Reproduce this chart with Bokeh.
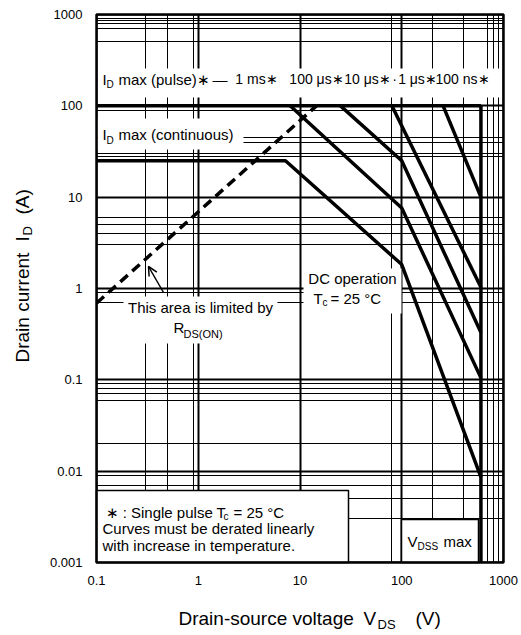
import math
from bokeh.plotting import figure
from bokeh.models import (Range1d, FixedTicker, Label, BoxAnnotation, Arrow, OpenHead)
from bokeh.embed import file_html
from bokeh.resources import INLINE

# ---------------- data ----------------
x_ticks = [0.1, 1, 10, 100, 1000]
y_ticks = [0.001, 0.01, 0.1, 1, 10, 100, 1000]
x_grid_minor = [0.3, 0.5, 0.9, 80, 200, 400, 700, 800, 900]
y_grid_minor = [900, 850, 800, 700, 500, 90, 45, 40, 30, 28, 6, 5, 4, 3,
                0.9, 0.7, 0.09, 0.08, 0.07, 0.06, 0.02, 0.009, 0.007,
                0.005, 0.003]

pulse_v = [0.1, 600]
pulse_i = [100, 100]
vdss_v = [600, 600]
vdss_i = [100, 0.001]
dc_v = [0.1, 7.2, 100, 600]
dc_i = [25, 25, 1.83, 0.0086]
ms1_v = [8, 100, 600]
ms1_i = [100, 7.6, 0.105]
us100_v = [25, 100, 600]
us100_i = [100, 25, 0.33]
us10_v = [80, 600]
us10_i = [100, 1.03]
us1_v = [255, 600]
us1_i = [100, 10]
rds_v = [0.1, 14.5]
rds_i = [0.69, 100]

# ---------------- layout helpers (canvas px -> data, for annotations) ----------------
FL, FT, DX, DY = 96, 14, 101.75, 91.33


def xd(px):
    return 10 ** (-1 + (px - FL) / DX)


def yd(py):
    return 10 ** (3 - (py - FT) / DY)


F = "Liberation Sans"
W, H = 519, 633

p = figure(width=W, height=H, x_axis_type="log", y_axis_type="log",
           x_axis_location=None, y_axis_location=None,
           x_range=Range1d(xd(0), xd(W)), y_range=Range1d(yd(H), yd(0)),
           output_backend="svg", toolbar_location=None, min_border=0)
p.background_fill_color = "white"
p.border_fill_color = "white"
p.outline_line_color = None

X0, X1, Y0, Y1 = x_ticks[0], x_ticks[-1], y_ticks[0], y_ticks[-1]

xt = FixedTicker(ticks=x_ticks, minor_ticks=x_grid_minor)
yt = FixedTicker(ticks=y_ticks, minor_ticks=y_grid_minor)
p.xgrid.ticker = xt
p.ygrid.ticker = yt
for g, b, cb in ((p.xgrid[0], (X0, X1), (Y0, Y1)), (p.ygrid[0], (Y0, Y1), (X0, X1))):
    g.grid_line_color = "black"
    g.grid_line_width = 2
    g.minor_grid_line_color = "black"
    g.minor_grid_line_width = 1
    g.bounds = b
    if "cross_bounds" in g.properties():
        g.cross_bounds = cb

# ---------------- curves ----------------
LW = 3.5
for v, i in [(pulse_v, pulse_i), (vdss_v, vdss_i), (dc_v, dc_i), (ms1_v, ms1_i),
             (us100_v, us100_i), (us10_v, us10_i), (us1_v, us1_i)]:
    p.line(v, i, line_width=LW, line_color="black")
p.line(rds_v, rds_i, line_width=LW, line_color="black", line_dash="10 6")

# ---------------- white areas: outside the chart, label boxes ----------------
for kw in (dict(right=X0), dict(left=X1), dict(top=Y0), dict(bottom=Y1)):
    p.add_layout(BoxAnnotation(fill_color="white", fill_alpha=1.0, line_color=None, **kw))


def box(l, r, t, b, border=None):
    p.add_layout(BoxAnnotation(left=xd(l), right=xd(r), top=yd(t), bottom=yd(b),
                               fill_color="white", fill_alpha=1.0,
                               line_color=border, line_width=1.5, line_alpha=1.0))


box(99, 500, 68, 97)
box(97, 243, 118, 149)
box(303, 401, 268, 313)
box(123, 277, 296, 343)
box(96, 348, 490, 562, border="black")
box(401, 478, 519, 562, border="black")

# chart border
p.add_layout(BoxAnnotation(left=X0, right=X1, bottom=Y0, top=Y1, fill_alpha=0.0,
                           line_color="black", line_width=2.5, line_alpha=1.0))

# tick labels
for t in x_ticks:
    p.add_layout(Label(x=t, y=Y0, y_offset=-18, text=f"{t:g}", text_font=F,
                       text_font_size="13px", text_align="center",
                       text_baseline="middle", text_color="black"))
for t in y_ticks:
    p.add_layout(Label(x=X0, y=t, x_offset=-14, text=f"{t:g}", text_font=F,
                       text_font_size="13px", text_align="right",
                       text_baseline="middle", text_color="black"))


def txt(px, py, s, size=15, align="left", angle=0.0):
    p.add_layout(Label(x=xd(px), y=yd(py), text=s, text_font=F,
                       text_font_size=f"{size}px", text_baseline="middle",
                       text_align=align, angle=angle, text_color="black"))


# pulse band
txt(102, 78.5, "I")
txt(106, 84, "D", 10)
txt(118, 78.5, "max (pulse)∗")
txt(212, 78.5, "—")
txt(256, 78.5, "1 ms∗", 14, "center")
txt(316, 78.5, "100 μs∗", 14, "center")
txt(367, 78.5, "10 μs∗", 14, "center")
txt(394, 78.5, "·", 14, "center")
txt(417, 78.5, "1 μs∗", 14, "center")
txt(462, 78.5, "100 ns∗", 14, "center")

# continuous
txt(102, 134, "I")
txt(106, 139.5, "D", 10)
txt(118, 134, "max (continuous)")

# DC operation
txt(352, 278, "DC operation", align="center")
txt(313, 298, "T")
txt(322, 302, "c", 10)
txt(330, 298, "= 25 °C")

# RDS(on) limit
txt(200, 307, "This area is limited by", align="center")
txt(173, 327, "R")
txt(183, 333, "DS(ON)", 11)
p.add_layout(Arrow(end=OpenHead(size=9, line_width=1.5, line_color="black"),
                   x_start=xd(163), y_start=yd(292), x_end=xd(148), y_end=yd(266),
                   line_width=1.5, line_color="black"))

# note box
txt(105, 512, "∗ : Single pulse T")
txt(223, 516, "c", 10)
txt(233, 512, "= 25 °C")
txt(102, 528, "Curves must be derated linearly")
txt(102, 545, "with increase in temperature.")

# VDSS max
txt(407, 541, "V")
txt(417, 546, "DSS", 10)
txt(443, 541, "max")

# axis titles
txt(178, 618, "Drain-source voltage", 19)
txt(363, 618, "V", 19)
txt(377, 624, "DS", 13)
txt(415, 618, "(V)", 19)

A = math.pi / 2
txt(22, 362, "Drain current", 19, angle=A)
txt(22, 241, "I", 19, angle=A)
txt(27, 235, "D", 13, angle=A)
txt(22, 214, "(A)", 19, angle=A)

open("out.html", "w").write(file_html(p, INLINE))
